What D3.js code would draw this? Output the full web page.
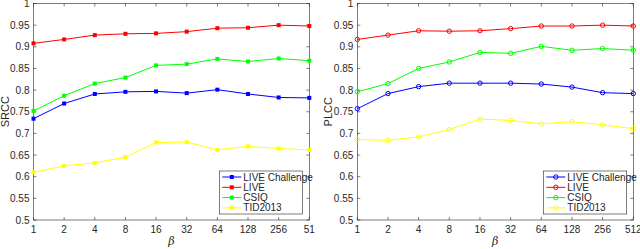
<!DOCTYPE html>
<html>
<head>
<meta charset="utf-8">
<script src="https://cdn.jsdelivr.net/npm/d3@7"></script>
<style>
  body { margin: 0; background: #fff; }
  svg text { font-family: "Liberation Sans", Arial, sans-serif; fill: #262626; }
</style>
</head>
<body>
<div id="chart"></div>
<script>
// x values (beta)
var betas = [1, 2, 4, 8, 16, 32, 64, 128, 256, 512];
var leftTickLabels = ["1", "2", "4", "8", "16", "32", "64", "128", "256", "51"];
var rightTickLabels = ["1", "2", "4", "8", "16", "32", "64", "128", "256", "512"];
var yTicks = [0.5, 0.55, 0.6, 0.65, 0.7, 0.75, 0.8, 0.85, 0.9, 0.95, 1];

var seriesNames = ["LIVE Challenge", "LIVE", "CSIQ", "TID2013"];
var seriesColors = ["#0000ff", "#ff0000", "#00ff00", "#ffff00"];

// SRCC
var srccChallenge = [0.734, 0.769, 0.791, 0.796, 0.797, 0.793, 0.801, 0.791, 0.783, 0.782];
var srccLive = [0.908, 0.917, 0.927, 0.930, 0.931, 0.935, 0.943, 0.944, 0.950, 0.948];
var srccCsiq = [0.752, 0.787, 0.815, 0.829, 0.857, 0.860, 0.872, 0.866, 0.873, 0.868];
var srccTid = [0.610, 0.625, 0.632, 0.645, 0.679, 0.680, 0.662, 0.670, 0.665, 0.662];

// PLCC
var plccChallenge = [0.757, 0.792, 0.808, 0.816, 0.816, 0.816, 0.814, 0.807, 0.794, 0.792];
var plccLive = [0.917, 0.927, 0.937, 0.936, 0.937, 0.942, 0.948, 0.948, 0.950, 0.948];
var plccCsiq = [0.796, 0.815, 0.850, 0.865, 0.887, 0.885, 0.901, 0.892, 0.896, 0.892];
var plccTid = [0.686, 0.684, 0.692, 0.709, 0.733, 0.730, 0.722, 0.727, 0.720, 0.711];

var svg = d3.select('#chart')
    .append('svg')
    .attr('width', 640)
    .attr('height', 249);

var axisColor = "#262626";

function drawPanel(opts) {
    var g = svg.append('g');
    var x = d3.scaleLog().base(2).domain([1, 512]).range([opts.x0, opts.x1]);
    var y = d3.scaleLinear().domain([0.5, 1]).range([opts.y1, opts.y0]);

    // box
    g.append('rect')
        .attr('x', opts.x0).attr('y', opts.y0)
        .attr('width', opts.x1 - opts.x0).attr('height', opts.y1 - opts.y0)
        .attr('fill', 'none').attr('stroke', axisColor).attr('stroke-width', 0.6);

    var tl = 3;
    // x ticks (inward, bottom + top)
    betas.forEach(function (b, i) {
        var px = x(b);
        g.append('line').attr('x1', px).attr('x2', px).attr('y1', opts.y1).attr('y2', opts.y1 - tl)
            .attr('stroke', axisColor).attr('stroke-width', 0.6);
        g.append('line').attr('x1', px).attr('x2', px).attr('y1', opts.y0).attr('y2', opts.y0 + tl)
            .attr('stroke', axisColor).attr('stroke-width', 0.6);
        g.append('text').attr('x', px).attr('y', opts.y1 + 13)
            .attr('text-anchor', 'middle').style('font-size', '10px')
            .text(opts.tickLabels[i]);
    });

    // y ticks
    yTicks.forEach(function (t) {
        var py = y(t);
        g.append('line').attr('x1', opts.x0).attr('x2', opts.x0 + tl).attr('y1', py).attr('y2', py)
            .attr('stroke', axisColor).attr('stroke-width', 0.6);
        g.append('line').attr('x1', opts.x1).attr('x2', opts.x1 - tl).attr('y1', py).attr('y2', py)
            .attr('stroke', axisColor).attr('stroke-width', 0.6);
        g.append('text').attr('x', opts.x0 - 4).attr('y', py + 3.5)
            .attr('text-anchor', 'end').style('font-size', '10px')
            .text(d3.format('')(t));
    });

    // axis labels
    g.append('text')
        .attr('transform', 'translate(' + (opts.x0 - 25) + ',' + ((opts.y0 + opts.y1) / 2) + ') rotate(-90)')
        .attr('text-anchor', 'middle').style('font-size', '11px')
        .text(opts.yLabel);
    g.append('text')
        .attr('x', (opts.x0 + opts.x1) / 2).attr('y', opts.y1 + 25)
        .attr('text-anchor', 'middle').style('font-size', '11px').style('font-style', 'italic')
        .style('font-family', '"DejaVu Serif", serif')
        .attr('fill', '#555')
        .text('\u03b2');

    var line = d3.line()
        .x(function (d, i) { return x(betas[i]); })
        .y(function (d) { return y(d); });

    opts.series.forEach(function (s, k) {
        g.append('path').datum(s)
            .attr('d', line)
            .attr('fill', 'none')
            .attr('stroke', seriesColors[k])
            .attr('stroke-width', 1);
        drawMarkers(g, s.map(function (d, i) { return [x(betas[i]), y(d)]; }), seriesColors[k], opts.marker);
    });

    // legend
    var lg = g.append('g');
    lg.append('rect')
        .attr('x', opts.legX).attr('y', opts.legY)
        .attr('width', opts.legW).attr('height', 43)
        .attr('fill', '#fff').attr('stroke', axisColor).attr('stroke-width', 0.6);
    seriesNames.forEach(function (name, k) {
        var ly = opts.legY + 6 + k * 10.3;
        lg.append('line')
            .attr('x1', opts.legX + 3).attr('x2', opts.legX + 22)
            .attr('y1', ly).attr('y2', ly)
            .attr('stroke', seriesColors[k]).attr('stroke-width', 1);
        drawMarkers(lg, [[opts.legX + 12.5, ly]], seriesColors[k], opts.marker);
        lg.append('text')
            .attr('x', opts.legX + 24).attr('y', ly + 3.5)
            .style('font-size', '10px')
            .text(name);
    });
}

function drawMarkers(g, pts, color, marker) {
    pts.forEach(function (p) {
        if (marker === 'square') {
            g.append('rect')
                .attr('x', p[0] - 2).attr('y', p[1] - 2)
                .attr('width', 4).attr('height', 4)
                .attr('fill', color);
        } else {
            g.append('circle')
                .attr('cx', p[0]).attr('cy', p[1]).attr('r', 2.2)
                .attr('fill', 'none').attr('stroke', color).attr('stroke-width', 1);
        }
    });
}

drawPanel({
    x0: 33.5, x1: 309.3, y0: 3.5, y1: 220,
    tickLabels: leftTickLabels,
    yLabel: 'SRCC',
    marker: 'square',
    series: [srccChallenge, srccLive, srccCsiq, srccTid],
    legX: 219.3, legY: 171, legW: 83
});

drawPanel({
    x0: 357.3, x1: 633.3, y0: 3.5, y1: 220,
    tickLabels: rightTickLabels,
    yLabel: 'PLCC',
    marker: 'circle',
    series: [plccChallenge, plccLive, plccCsiq, plccTid],
    legX: 543.3, legY: 171, legW: 83.4
});
</script>
</body>
</html>
